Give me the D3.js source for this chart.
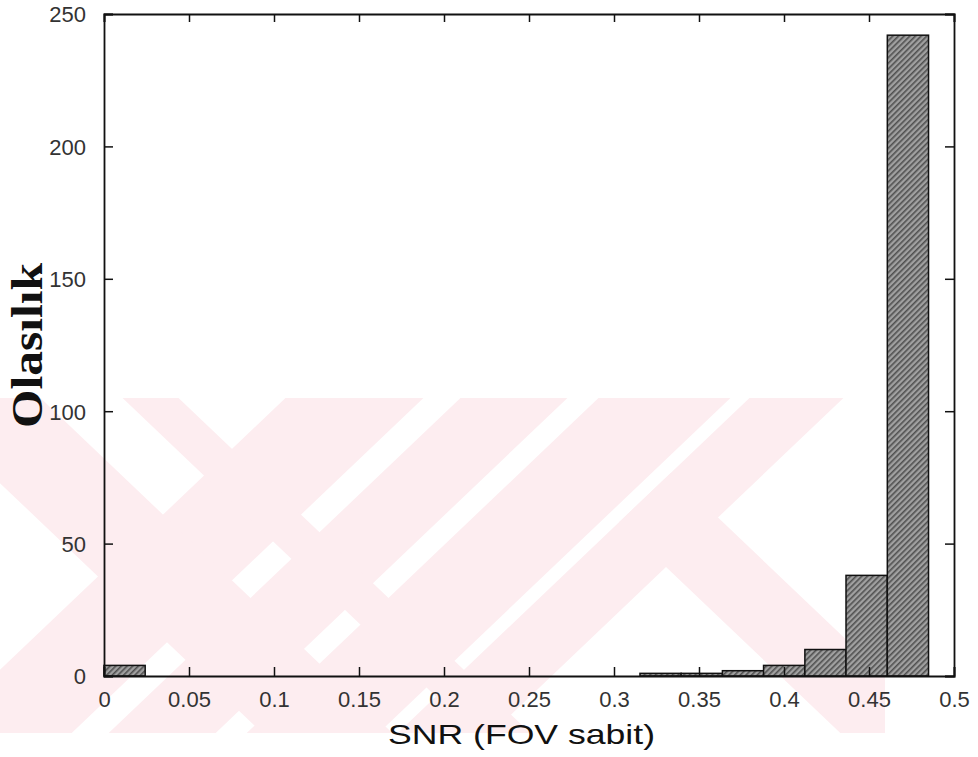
<!DOCTYPE html>
<html>
<head>
<meta charset="utf-8">
<script src="https://cdn.jsdelivr.net/npm/d3@7"></script>
<style>
  html, body { margin: 0; padding: 0; background: #fff; }
  svg { display: block; }
</style>
</head>
<body>
<svg id="chart" width="978" height="757"></svg>
<script>
// ---- data ----
const binCenters = [0.0121, 0.0364, 0.0606, 0.0849, 0.1091, 0.1334, 0.1576, 0.1819, 0.2061, 0.2304,
                    0.2546, 0.2789, 0.3031, 0.3274, 0.3516, 0.3759, 0.4001, 0.4244, 0.4486, 0.4729];
const binCounts  = [4, 0, 0, 0, 0, 0, 0, 0, 0, 0,
                    0, 0, 0, 1, 1, 2, 4, 10, 38, 242];
const binWidth = 0.02425;
const xTicks = [0, 0.05, 0.1, 0.15, 0.2, 0.25, 0.3, 0.35, 0.4, 0.45, 0.5];
const yTicks = [0, 50, 100, 150, 200, 250];
const xLabel = 'SNR (FOV sabit)';
const yLabel = 'Olasılık';

// ---- layout ----
const plotLeft = 104, plotRight = 954, plotTop = 14, plotBottom = 676;

const svg = d3.select('#chart');
const x = d3.scaleLinear().domain([0, 0.5]).range([plotLeft, plotRight]);
const y = d3.scaleLinear().domain([0, 250]).range([plotBottom, plotTop]);

// ---- background watermark (pale pink diagonal bands) ----
const defs = svg.append('defs');
defs.append('clipPath').attr('id', 'wmclip')
  .append('rect').attr('x', 0).attr('y', 398).attr('width', 885).attr('height', 335);

const k = 1.05, y0 = 407, yTop = 398, yBot = 733;
const slashBands = [[276, 414], [451, 558], [589, 721], [740, 834]];
const backBands = [[-80, 50], [132, 188]];
const pink = '#fdedf0';
const wmG = svg.append('g').attr('clip-path', 'url(#wmclip)');

slashBands.forEach(([c1, c2]) => {
  const pts = [[c1 - k * (yTop - y0), yTop], [c2 - k * (yTop - y0), yTop],
               [c2 - k * (yBot - y0), yBot], [c1 - k * (yBot - y0), yBot]];
  wmG.append('polygon').attr('points', pts.join(' ')).attr('fill', pink);
});
backBands.forEach(([d1, d2]) => {
  const pts = [[d1 + k * (yTop - y0), yTop], [d2 + k * (yTop - y0), yTop],
               [d2 + k * (yBot - y0), yBot], [d1 + k * (yBot - y0), yBot]];
  wmG.append('polygon').attr('points', pts.join(' ')).attr('fill', pink);
});
// right "\" band that starts under the last "/" band
(function () {
  const c = 740, d1 = 498, d2 = 602;
  const p = (d) => { const t = (c - d) / 2; return [d + t, y0 + t / k]; };
  const pts = [p(d2), [d2 + k * (yBot - y0), yBot], [d1 + k * (yBot - y0), yBot], p(d1)];
  wmG.append('polygon').attr('points', pts.join(' ')).attr('fill', pink);
})();

// ---- bar texture ----
const pat = defs.append('pattern').attr('id', 'grain')
  .attr('patternUnits', 'userSpaceOnUse').attr('width', 4).attr('height', 4)
  .attr('patternTransform', 'rotate(45)');
pat.append('rect').attr('width', 4).attr('height', 4).attr('fill', '#a0a0a0');
pat.append('rect').attr('width', 1.6).attr('height', 4).attr('fill', '#505050');

// ---- bars ----
const bars = binCenters.map((c, i) => ({ c, n: binCounts[i] })).filter(d => d.n > 0);
svg.append('g').selectAll('rect').data(bars).join('rect')
  .attr('x', d => x(d.c - binWidth / 2))
  .attr('width', d => x(d.c + binWidth / 2) - x(d.c - binWidth / 2))
  .attr('y', d => y(d.n))
  .attr('height', d => y(0) - y(d.n))
  .attr('fill', 'url(#grain)')
  .attr('stroke', '#111')
  .attr('stroke-width', 1.5);

// ---- axes (MATLAB style box with inward ticks) ----
const tickFont = '"Liberation Sans", Arial, sans-serif';
const axB = svg.append('g').attr('transform', `translate(0,${plotBottom})`)
  .call(d3.axisBottom(x).tickValues(xTicks).tickFormat(d => String(d)).tickSize(-9).tickPadding(21));
const axT = svg.append('g').attr('transform', `translate(0,${plotTop})`)
  .call(d3.axisTop(x).tickValues(xTicks).tickFormat('').tickSize(-8));
const axL = svg.append('g').attr('transform', `translate(${plotLeft},0)`)
  .call(d3.axisLeft(y).tickValues(yTicks).tickSize(-9).tickPadding(18));
const axR = svg.append('g').attr('transform', `translate(${plotRight},0)`)
  .call(d3.axisRight(y).tickValues(yTicks).tickFormat('').tickSize(-9));

[axB, axT, axL, axR].forEach(a => {
  a.select('.domain').attr('stroke', '#111').attr('stroke-width', 1.8);
  a.selectAll('.tick line').attr('stroke', '#111').attr('stroke-width', 1.5);
  a.selectAll('.tick text').attr('fill', '#333').style('font-family', tickFont).style('font-size', '22px');
});
axB.selectAll('.tick text').attr('dy', '0.45em');
axL.selectAll('.tick text').attr('dy', '0.36em');

// ---- axis titles ----
svg.append('text')
  .attr('x', (388 + 655) / 2).attr('y', 744)
  .attr('text-anchor', 'middle')
  .attr('textLength', 267).attr('lengthAdjust', 'spacingAndGlyphs')
  .style('font-family', tickFont).style('font-size', '28px').attr('fill', '#111')
  .text(xLabel);

svg.append('text')
  .attr('transform', `translate(42,${(263 + 428) / 2}) rotate(-90)`)
  .attr('text-anchor', 'middle')
  .attr('textLength', 165).attr('lengthAdjust', 'spacingAndGlyphs')
  .style('font-family', '"Liberation Serif", "Times New Roman", serif')
  .style('font-weight', 'bold').style('font-size', '44px').attr('fill', '#111')
  .text(yLabel);
</script>
</body>
</html>
